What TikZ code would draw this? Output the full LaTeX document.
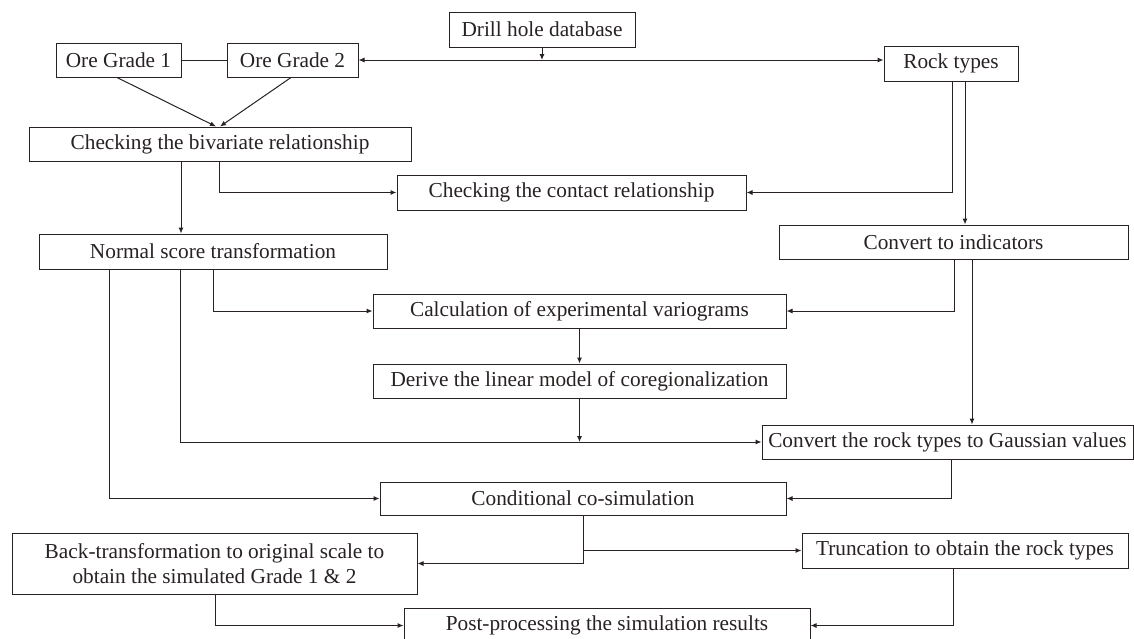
\documentclass[tikz,border=0pt]{standalone}
\usepackage{fontspec}
\setmainfont{Liberation Serif}
\usetikzlibrary{arrows.meta}
\definecolor{linec}{RGB}{40,34,34}
\begin{document}
\begin{tikzpicture}[x=1pt,y=-1pt,
  box/.style={draw=linec, line width=1pt, inner sep=0pt, align=center,
    font=\fontsize{21.3}{25}\selectfont, text=linec},
  conn/.style={draw=linec, line width=1pt},
  arr/.style={conn, -{Latex[length=6pt,width=5pt]}},
  darr/.style={conn, {Latex[length=6pt,width=5pt]}-{Latex[length=6pt,width=5pt]}}]
\useasboundingbox (0,0) rectangle (1134,638);
\clip (0,0) rectangle (1134,638);
\fill[white] (0,0) rectangle (1134,638);

\node[box, minimum width=186pt, minimum height=35pt] (drill) at (542,29.5) {Drill hole database};
\node[box, minimum width=125pt, minimum height=34pt] (og1) at (118.5,60) {Ore Grade 1};
\node[box, minimum width=131pt, minimum height=34pt] (og2) at (292.5,60) {Ore Grade 2};
\node[box, minimum width=134pt, minimum height=35pt] (rock) at (951,63.5) {Rock types};
\node[box, minimum width=382pt, minimum height=34pt] (biv) at (220,144) {Checking the bivariate relationship};
\node[box, minimum width=349pt, minimum height=35pt] (contact) at (571.5,192.5) {Checking the contact relationship};
\node[box, minimum width=348pt, minimum height=35pt] (normal) at (213,251.5) {Normal score transformation};
\node[box, minimum width=349pt, minimum height=34pt] (ind) at (953.5,242) {Convert to indicators};
\node[box, minimum width=413pt, minimum height=34pt] (calc) at (579.5,311) {Calculation of experimental variograms};
\node[box, minimum width=413pt, minimum height=34pt] (derive) at (579.5,381) {Derive the linear model of coregionalization};
\node[box, minimum width=371pt, minimum height=34pt] (gauss) at (947.5,442) {Convert the rock types to Gaussian values};
\node[box, minimum width=406pt, minimum height=33pt] (cond) at (583,498.5) {Conditional co-simulation};
\node[box, minimum width=405pt, minimum height=61pt] (back) at (214.5,563.5) {Back-transformation to original scale to\\obtain the simulated Grade 1 \& 2};
\node[box, minimum width=326pt, minimum height=35pt] (trunc) at (965,550.5) {Truncation to obtain the rock types};
\node[box, minimum width=406pt, minimum height=35pt] (post) at (607,625.5) {Post-processing the simulation results};

% top
\draw[conn] (og1.east) -- (og2.west);
\draw[darr] (og2.east) -- (og2.east -| rock.west);
\draw[arr] (drill.south) -- (drill.south |- og2.east);
\draw[arr] ([xshift=-1.5pt]og1.south) -- ([xshift=-4pt]biv.north);
\draw[arr] ([xshift=-1.5pt]og2.south) -- ([xshift=0pt]biv.north);

% bivariate
\draw[arr] ([xshift=-39pt]biv.south) -- ([xshift=-39pt]biv.south |- normal.north);
\draw[arr] ([xshift=-1pt]biv.south) |- (contact.west);

% rock types
\draw[arr] ([xshift=1pt]rock.south) |- (contact.east);
\draw[arr] ([xshift=14pt]rock.south) -- ([xshift=14pt]rock.south |- ind.north);

% indicators
\draw[arr] ([xshift=0.5pt]ind.south) |- (calc.east);
\draw[arr] ([xshift=18.5pt]ind.south) -- ([xshift=18.5pt]ind.south |- gauss.north);

% normal score
\draw[arr] (normal.south) |- (calc.west);
\draw[arr] ([xshift=-33pt]normal.south) |- (gauss.west);
\draw[arr] ([xshift=-104pt]normal.south) |- (cond.west);

% variograms
\draw[arr] (calc.south) -- (derive.north);
\draw[arr] (derive.south) -- (derive.south |- gauss.west);

% gaussian
\draw[arr] ([xshift=3.5pt]gauss.south) |- (cond.east);

% co-simulation
\draw[arr] (cond.south) |- (back.east);
\draw[arr] (cond.south |- trunc.west) -- (trunc.west);

% post
\draw[arr] ([xshift=0.5pt]back.south) |- (post.west);
\draw[arr] ([xshift=-12pt]trunc.south) |- (post.east);
\end{tikzpicture}
\end{document}
